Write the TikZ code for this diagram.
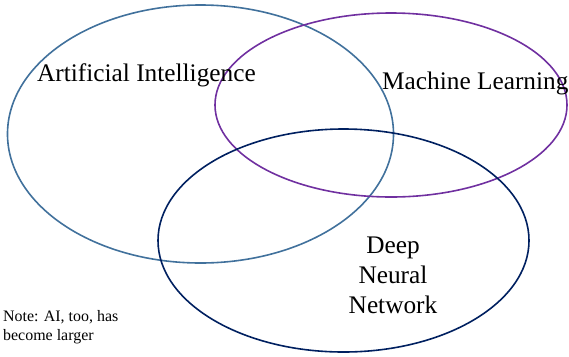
\documentclass[tikz,border=0pt]{standalone}
\usepackage{fontspec}
\setmainfont{Liberation Serif}
\definecolor{aiblue}{HTML}{41719C}
\definecolor{mlpurple}{HTML}{7030A0}
\definecolor{dnnnavy}{HTML}{002060}
\begin{document}
\begin{tikzpicture}[x=1bp,y=-1bp,
  ring/.style={line width=1.6bp},
  biglabel/.style={font=\fontsize{25.4}{30}\selectfont, inner sep=0pt, text=black},
  notelabel/.style={font=\fontsize{16}{19}\selectfont, inner sep=0pt, text=black, anchor=base west}]
\useasboundingbox (0,0) rectangle (569,356);
% the three overlapping fields
\draw[ring, aiblue]    (200.5,134)   ellipse [x radius=193bp,   y radius=129bp];
\draw[ring, mlpurple]  (391,105)     ellipse [x radius=176bp,   y radius=92bp];
\draw[ring, dnnnavy]   (343.5,240.5) ellipse [x radius=185.5bp, y radius=111.5bp];
% field labels
\node[biglabel, anchor=base west] (ai) at (37,81) {Artificial Intelligence};
\node[biglabel, anchor=base west] (ml) at (382,89) {Machine Learning};
\node[biglabel, anchor=base] (dnn1) at (393,253) {Deep};
\node[biglabel, anchor=base] (dnn2) at (393,283) {Neural};
\node[biglabel, anchor=base] (dnn3) at (393,313) {Network};
% footnote
\node[notelabel] (note1) at (3,321) {Note: AI, too, has};
\node[notelabel] (note2) at (3,340) {become larger};
\end{tikzpicture}
\end{document}
